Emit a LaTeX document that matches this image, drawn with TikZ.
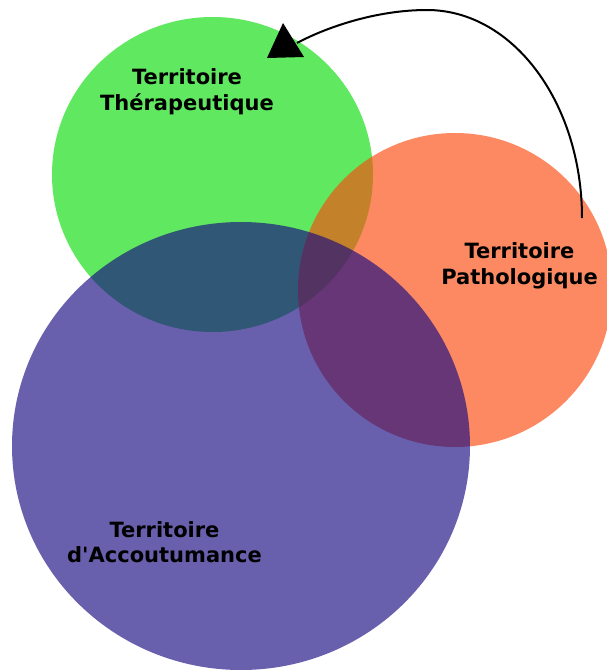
\documentclass[tikz,border=0pt]{standalone}
\usepackage{fontspec}
\setmainfont{DejaVu Sans}[Ligatures=TeXOff]
\definecolor{tgreen}{RGB}{10,220,10}
\definecolor{torange}{RGB}{250,74,14}
\definecolor{tpurple}{RGB}{23,10,129}
\tikzset{
  zone/.style={fill opacity=0.65, draw=none},
  lbl/.style={align=center, inner sep=0pt, font=\bfseries\fontsize{21}{25.5}\selectfont, text=black},
  link/.style={line width=2pt, black}
}
\begin{document}
\begin{tikzpicture}[x=1pt,y=-1pt]
\useasboundingbox (0,0) rectangle (607,670);
\fill[zone, tgreen] (212.5,174.5) ellipse [x radius=160.5, y radius=157.5];
\fill[zone, torange] (455,290) ellipse [x radius=157, y radius=157];
\fill[zone, tpurple] (241,446) ellipse [x radius=229, y radius=224];
\node[lbl] (ther) at (187,91.6) {Territoire\\Thérapeutique};
\node[lbl] (path) at (519.5,266) {Territoire\\Pathologique};
\node[lbl] (acc) at (164.5,542) {Territoire\\d'Accoutumance};
\coordinate (start) at (582,218);
\coordinate (peak) at (427,10);
\coordinate (tipin) at (297,43);
\draw[link] (start) .. controls (582,103) and (513,10) .. (peak)
  .. controls (375,10) and (325,28) .. (tipin);
\fill[black] (283,23) -- (304,57) -- (267,58) -- cycle;
\end{tikzpicture}
\end{document}
